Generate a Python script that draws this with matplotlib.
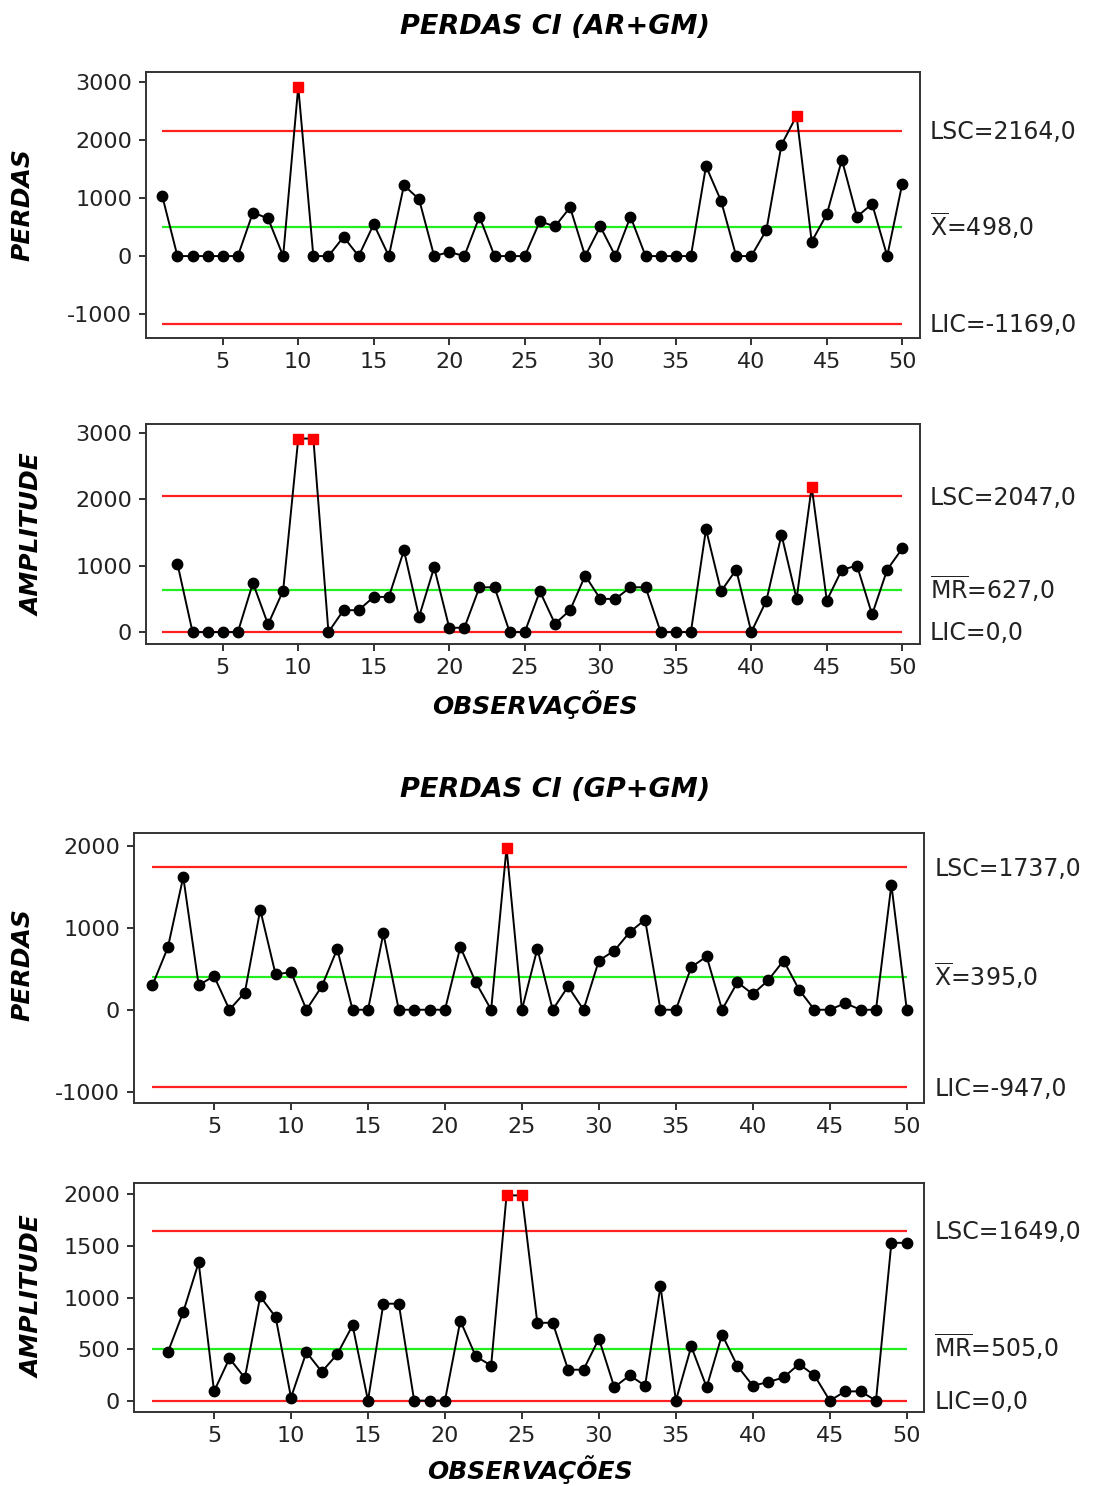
import matplotlib
matplotlib.use('Agg')
import matplotlib.pyplot as plt
import matplotlib.transforms as mtransforms
import numpy as np

plt.rcParams['axes.unicode_minus'] = False

# ---- data ----
obs = np.arange(1, 51)
obs_mr = np.arange(2, 51)

perdas_ar = [1030, 0, 0, 0, 0, 0, 750, 650, 0, 2920,
             0, 0, 330, 0, 550, 0, 1220, 980, 0, 70,
             0, 680, 0, 0, 0, 600, 510, 840, 0, 510,
             0, 680, 0, 0, 0, 0, 1550, 950, 0, 0,
             450, 1920, 2420, 250, 720, 1660, 680, 900, 0, 1250]
mr_ar = [1030, 0, 0, 0, 0, 740, 115, 625, 2915,
         2915, 0, 330, 330, 530, 530, 1230, 230, 975, 65,
         65, 675, 675, 0, 0, 615, 125, 330, 850, 500,
         500, 675, 675, 0, 0, 0, 1550, 615, 940, 0,
         475, 1465, 500, 2190, 475, 940, 1000, 265, 940, 1260]

perdas_gp = [300, 760, 1620, 300, 410, 0, 210, 1220, 430, 460,
             0, 285, 740, 0, 0, 930, 0, 0, 0, 0,
             765, 335, 0, 1975, 0, 745, 0, 285, 0, 600,
             720, 945, 1100, 0, 0, 520, 650, 0, 335, 190,
             360, 600, 245, 0, 0, 80, 0, 0, 1525, 0]
mr_gp = [470, 860, 1340, 90, 410, 220, 1010, 810, 30,
         470, 280, 450, 730, 0, 940, 940, 0, 0, 0,
         775, 430, 340, 1990, 1990, 755, 755, 300, 300, 600,
         130, 245, 145, 1110, 0, 525, 130, 640, 335, 145,
         180, 225, 355, 245, 0, 90, 90, 0, 1530, 1530]

# limits: (LSC, centre, LIC)
lim_ar_i = (2164.0, 498.0, -1169.0)
lim_ar_mr = (2047.0, 627.0, 0.0)
lim_gp_i = (1737.0, 395.0, -947.0)
lim_gp_mr = (1649.0, 505.0, 0.0)

label_font = ['Liberation Sans Narrow', 'DejaVu Sans']
tick_size = 16


def fmt(v):
    return ('%.1f' % v).replace('.', ',')


def control_panel(fig, rect, x, y, limits, centre_name, yticks, ylim, xlim):
    ax = fig.add_axes(rect)
    ucl, cl, lcl = limits
    ax.hlines([ucl, lcl], 1, 50, colors='#ff2020', lw=1.6, zorder=1)
    ax.hlines(cl, 1, 50, colors='#22ee22', lw=1.6, zorder=1)
    y = np.asarray(y)
    x = np.asarray(x)
    out = y > ucl
    ax.plot(x, y, color='black', lw=1.4, zorder=2)
    ax.plot(x[~out], y[~out], ls='none', marker='o', ms=7.5, color='black', zorder=3)
    ax.plot(x[out], y[out], ls='none', marker='s', ms=7.5, color='#ff0000',
            mec='#ff0000', zorder=3)
    ax.set_xlim(*xlim)
    ax.set_ylim(*ylim)
    ax.set_xticks(range(5, 51, 5))
    ax.set_yticks(yticks)
    ax.tick_params(direction='out', length=5, width=1.3, pad=5,
                   labelsize=tick_size, colors='#222222', top=False, right=False)
    for s in ax.spines.values():
        s.set_linewidth(1.4)
        s.set_color('#333333')

    tr = mtransforms.blended_transform_factory(ax.transAxes, ax.transData)
    tr = mtransforms.offset_copy(tr, fig=fig, x=0, y=-6, units='points')
    kw = dict(transform=tr, ha='left', va='baseline', fontsize=tick_size + 1,
              color='#222222')
    ax.text(1.013, ucl, 'LSC=' + fmt(ucl), **kw)
    ax.text(1.013, cl, r'$\overline{\mathrm{%s}}$=' % centre_name + fmt(cl), **kw)
    ax.text(1.013, lcl, 'LIC=' + fmt(lcl), **kw)
    return ax


fig = plt.figure(figsize=(10.93, 14.86), dpi=100)

control_panel(fig, [0.1336, 0.7725, 0.7081, 0.179], obs, perdas_ar, lim_ar_i, 'X',
              [-1000, 0, 1000, 2000, 3000], (-1414, 3173), (-0.08, 51.17))
control_panel(fig, [0.1336, 0.5666, 0.7081, 0.1481], obs_mr, mr_ar, lim_ar_mr, 'MR',
              [0, 1000, 2000, 3000], (-180, 3135), (-0.08, 51.17))
control_panel(fig, [0.1226, 0.2577, 0.7228, 0.1817], obs, perdas_gp, lim_gp_i, 'X',
              [-1000, 0, 1000, 2000], (-1138, 2155), (-0.2, 51.12))
control_panel(fig, [0.1226, 0.0498, 0.7228, 0.1541], obs_mr, mr_gp, lim_gp_mr, 'MR',
              [0, 500, 1000, 1500, 2000], (-110, 2110), (-0.2, 51.12))

tkw = dict(family=label_font, weight='bold', style='italic', ha='center', va='center')
fig.text(0.508, 1 - 27 / 1486, 'PERDAS CI (AR+GM)', fontsize=19.5, **tkw)
fig.text(0.508, 1 - 790 / 1486, 'PERDAS CI (GP+GM)', fontsize=19.5, **tkw)

fig.text(0.0201, 1 - 205 / 1486, 'PERDAS', fontsize=18, rotation=90, **tkw)
fig.text(0.0302, 1 - 535 / 1486, 'AMPLITUDE', fontsize=18, rotation=90, **tkw)
fig.text(0.0201, 1 - 965 / 1486, 'PERDAS', fontsize=18, rotation=90, **tkw)
fig.text(0.0302, 1 - 1297 / 1486, 'AMPLITUDE', fontsize=18, rotation=90, **tkw)

fig.text(0.4895, 1 - 705 / 1486, 'OBSERVAÇÕES', fontsize=18, **tkw)
fig.text(0.485, 1 - 1470 / 1486, 'OBSERVAÇÕES', fontsize=18, **tkw)

fig.savefig('out.png', dpi=100)
